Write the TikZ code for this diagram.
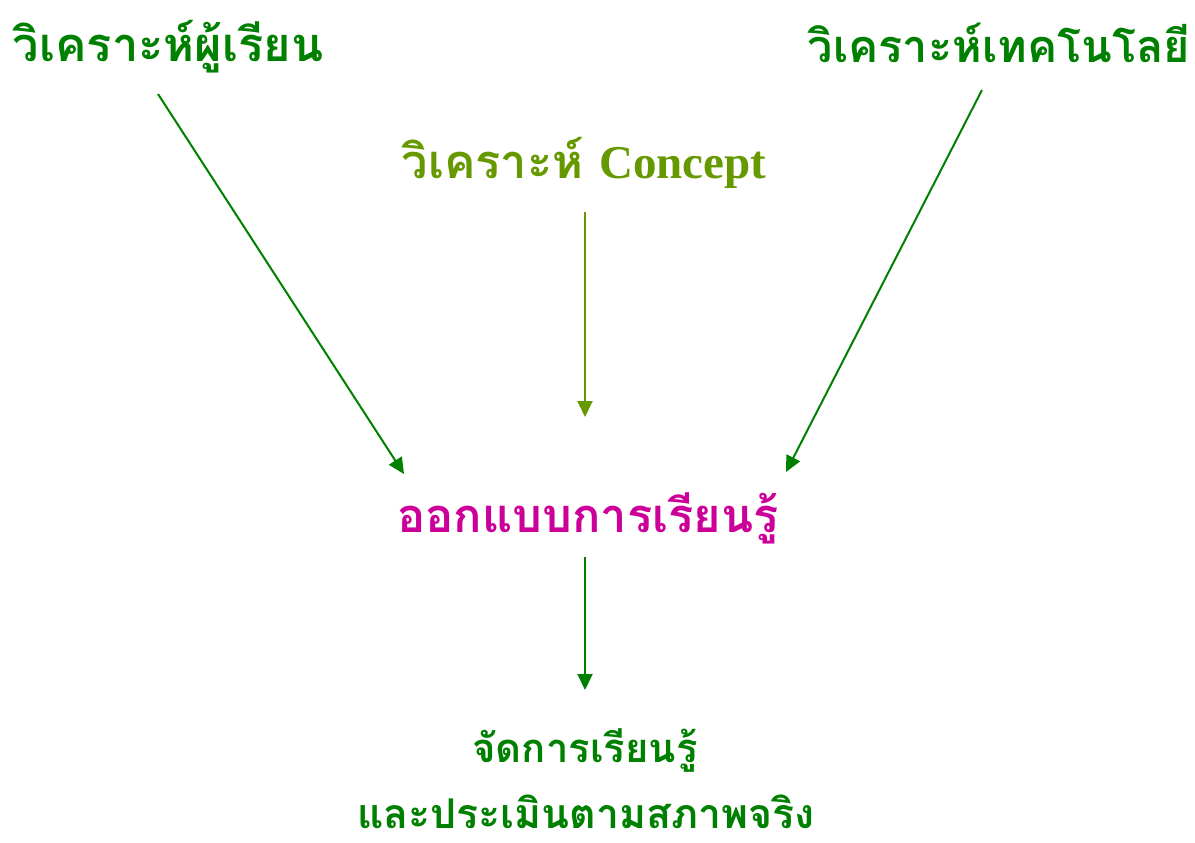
\documentclass[tikz,border=0pt]{standalone}
\usepackage{fontspec}
\newfontfamily\thaifont[Script=Thai]{Loma}
\newfontfamily\latinserif{Liberation Serif}
\usetikzlibrary{arrows.meta}
\definecolor{dgreen}{HTML}{008000}
\definecolor{olive}{HTML}{669900}
\definecolor{mag}{HTML}{CC0099}
\begin{document}
\begin{tikzpicture}[x=1pt,y=-1pt,
  lbl/.style={font=\thaifont\bfseries\fontsize{#1}{#1}\selectfont, inner sep=0pt, anchor=base},
  arr/.style={-{Triangle[length=16pt,width=15pt]}, line width=2pt}]
\useasboundingbox (0,0) rectangle (1195,843);
\node[lbl=47, text=dgreen] (learner) at (168,62) {วิเคราะห์ผู้เรียน};
\node[lbl=45, text=dgreen] (tech) at (999,63) {วิเคราะห์เทคโนโลยี};
\node[lbl=47, text=olive] (concept) at (584,178) {วิเคราะห์ {\latinserif\bfseries Concept}};
\node[lbl=47, text=mag] (design) at (588,532) {ออกแบบการเรียนรู้};
\node[lbl=40, text=dgreen] (manage) at (585,762) {จัดการเรียนรู้};
\node[lbl=41, text=dgreen, text depth=0pt] (assess) at (586,828) {และประเมินตามสภาพจริง};
\coordinate (a1s) at (158,94); \coordinate (a1e) at (404,474);
\coordinate (a2s) at (585,212); \coordinate (a2e) at (585,417);
\coordinate (a3s) at (982,90); \coordinate (a3e) at (786,472);
\coordinate (a4s) at (585,557); \coordinate (a4e) at (585,690);
\draw[arr, dgreen] (a1s) -- (a1e);
\draw[arr, olive] (a2s) -- (a2e);
\draw[arr, dgreen] (a3s) -- (a3e);
\draw[arr, dgreen] (a4s) -- (a4e);
\end{tikzpicture}
\end{document}
